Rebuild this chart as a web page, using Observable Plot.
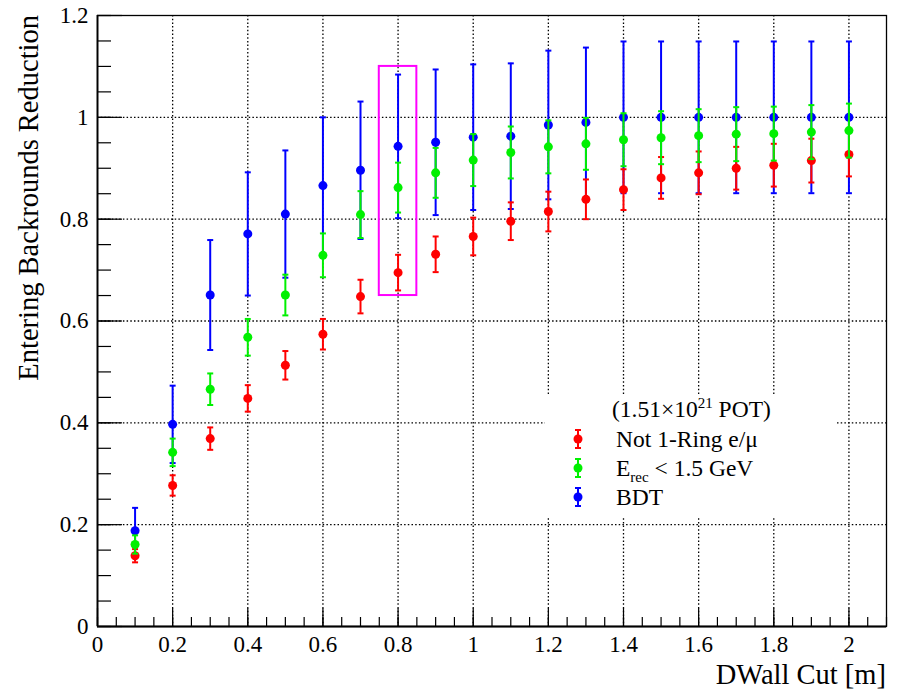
<!DOCTYPE html>
<html><head><meta charset="utf-8">
<script src="https://cdn.jsdelivr.net/npm/d3@7"></script>
<script src="https://cdn.jsdelivr.net/npm/@observablehq/plot@0.6"></script>
<style>body{margin:0;background:#fff}</style>
</head><body><div id="chart"></div>
<script>
// ---- data ----
const dwall = [0.1,0.2,0.3,0.4,0.5,0.6,0.7,0.8,0.9,1.0,1.1,1.2,1.3,1.4,1.5,1.6,1.7,1.8,1.9,2.0];
const notRing    = [0.139,0.277,0.369,0.448,0.513,0.574,0.648,0.695,0.731,0.766,0.796,0.815,0.839,0.858,0.881,0.891,0.900,0.906,0.915,0.927];
const notRingErr = [0.013,0.020,0.022,0.026,0.028,0.030,0.033,0.035,0.035,0.037,0.037,0.039,0.039,0.040,0.041,0.042,0.042,0.042,0.043,0.043];
const erec       = [0.161,0.342,0.466,0.568,0.651,0.729,0.809,0.862,0.891,0.916,0.931,0.942,0.948,0.956,0.960,0.964,0.967,0.968,0.971,0.974];
const erecErr    = [0.018,0.027,0.031,0.036,0.040,0.043,0.046,0.049,0.049,0.051,0.051,0.052,0.051,0.052,0.052,0.052,0.053,0.053,0.053,0.053];
const bdt        = [0.188,0.397,0.651,0.771,0.810,0.866,0.896,0.943,0.951,0.961,0.963,0.985,0.990,1.000,1.000,1.000,1.000,1.000,1.000,1.000];
const bdtErr     = [0.045,0.076,0.108,0.121,0.125,0.134,0.135,0.141,0.143,0.143,0.143,0.146,0.147,0.149,0.149,0.149,0.149,0.149,0.149,0.149];
const seriesNames  = ["Not 1-Ring e/μ", "E_rec < 1.5 GeV", "BDT"];
const seriesColors = ["#ff0000", "#00f000", "#0000ff"];
const xMajorTicks = [0,0.2,0.4,0.6,0.8,1.0,1.2,1.4,1.6,1.8,2.0];
const yMajorTicks = [0,0.2,0.4,0.6,0.8,1.0,1.2];
const highlightBox = [{x1:0.75, x2:0.85, y1:0.65, y2:1.10}];
const potLabel = {pre:"(1.51×10", sup:"21", post:" POT)"};
const xTitle = "DWall Cut [m]";
const yTitle = "Entering Backrounds Reduction";

// ---- build ----
const seriesValues = [notRing, erec, bdt];
const seriesErrs = [notRingErr, erecErr, bdtErr];
const rows = s => dwall.map((x,i)=>({x, y: seriesValues[s][i], err: seriesErrs[s][i]}));
const xMinor = d3.range(0, 2.1001, 0.05);
const yMinor = d3.range(0, 1.2001, 0.05);
const fmt = d => String(+d.toFixed(1));
const FONT = "'Liberation Serif','Times New Roman',Times,serif";

const capSymbol = { draw(ctx, size){ const w = Math.sqrt(size/Math.PI); ctx.moveTo(-w,0); ctx.lineTo(w,0); } };

const grid = {stroke:"#000", strokeOpacity:1, strokeDasharray:"1.5,2.2", strokeWidth:1.3};
const drawOrder = [2,0,1];
const dataMarks = [];
for (const s of drawOrder) {
  const r = rows(s), c = seriesColors[s];
  dataMarks.push(
    Plot.ruleX(r, {x:"x", y1:d=>d.y-d.err, y2:d=>d.y+d.err, stroke:c, strokeWidth:2}),
    Plot.dot(r, {x:"x", y:d=>d.y+d.err, symbol:capSymbol, r:3, stroke:c, strokeWidth:2, fill:"none"}),
    Plot.dot(r, {x:"x", y:d=>d.y-d.err, symbol:capSymbol, r:3, stroke:c, strokeWidth:2, fill:"none"}),
    Plot.dot(r, {x:"x", y:"y", r:4.5, fill:c, stroke:"none"})
  );
}

const plot = Plot.plot({
  width:904, height:691,
  marginLeft:97, marginRight:18, marginTop:15, marginBottom:65,
  x:{domain:[0,2.1]}, y:{domain:[0,1.2]},
  style:{fontFamily:FONT, background:"white", color:"black"},
  marks:[
    Plot.gridX(xMajorTicks.filter(d=>d>0), grid),
    Plot.gridY(yMajorTicks.filter(d=>d>0 && d<1.2), grid),
    Plot.axisX(xMinor, {tickSize:-9, text:null, label:null, strokeWidth:1.2}),
    Plot.axisX(xMajorTicks, {tickSize:-18, text:null, label:null, strokeWidth:1.2}),
    Plot.axisX(xMajorTicks, {tickSize:0, tickPadding:9, tickFormat:fmt, fontSize:23, label:null}),
    Plot.axisY(yMinor, {tickSize:-14, text:null, label:null, strokeWidth:1.2}),
    Plot.axisY(yMajorTicks, {tickSize:-25, text:null, label:null, strokeWidth:1.2}),
    Plot.axisY(yMajorTicks, {tickSize:0, tickPadding:9, tickFormat:fmt, fontSize:23, label:null}),
    Plot.frame({stroke:"#000", strokeWidth:1.3}),
    Plot.ruleX([0], {stroke:"#000", strokeWidth:1.8}),
    Plot.ruleY([0], {stroke:"#000", strokeWidth:1.8}),
    Plot.rect(highlightBox, {x1:"x1", x2:"x2", y1:"y1", y2:"y2", fill:"none", stroke:"#ff00ff", strokeWidth:2}),
    ...dataMarks
  ]
});
document.getElementById("chart").appendChild(plot);

// ---- titles & legend ----
const svg = d3.select(plot);
svg.append("text").attr("x",886).attr("y",684).attr("text-anchor","end")
  .attr("font-family",FONT).attr("font-size",28.5).attr("fill","#000").text(xTitle);
svg.append("text").attr("transform","translate(38,15) rotate(-90)").attr("text-anchor","end")
  .attr("font-family",FONT).attr("font-size",28.5).attr("fill","#000").text(yTitle);

const lg = svg.append("g").attr("font-family",FONT).attr("fill","#000").attr("text-anchor","start");
lg.append("rect").attr("x",545).attr("y",396).attr("width",292).attr("height",120).attr("fill","#fff");
const t0 = lg.append("text").attr("x",612).attr("y",417).attr("font-size",23.5);
t0.append("tspan").text(potLabel.pre);
t0.append("tspan").attr("dy",-9).attr("font-size",15).text(potLabel.sup);
t0.append("tspan").attr("dy",9).text(potLabel.post);
const entryY = [439, 468, 497];
seriesNames.forEach((name,i)=>{
  const cy = entryY[i], c = seriesColors[i];
  lg.append("line").attr("x1",578).attr("x2",578).attr("y1",cy-9).attr("y2",cy+9).attr("stroke",c).attr("stroke-width",2);
  [cy-9, cy+9].forEach(yy=>lg.append("line").attr("x1",575).attr("x2",581).attr("y1",yy).attr("y2",yy).attr("stroke",c).attr("stroke-width",2));
  lg.append("circle").attr("cx",578).attr("cy",cy).attr("r",4.5).attr("fill",c);
  const t = lg.append("text").attr("x",616).attr("y",cy+8).attr("font-size",23.5);
  if (name.startsWith("E_rec")) {
    t.append("tspan").text("E");
    t.append("tspan").attr("dy",6).attr("font-size",15).text("rec");
    t.append("tspan").attr("dy",-6).text(" < 1.5 GeV");
  } else t.text(name);
});
</script>
</body></html>
